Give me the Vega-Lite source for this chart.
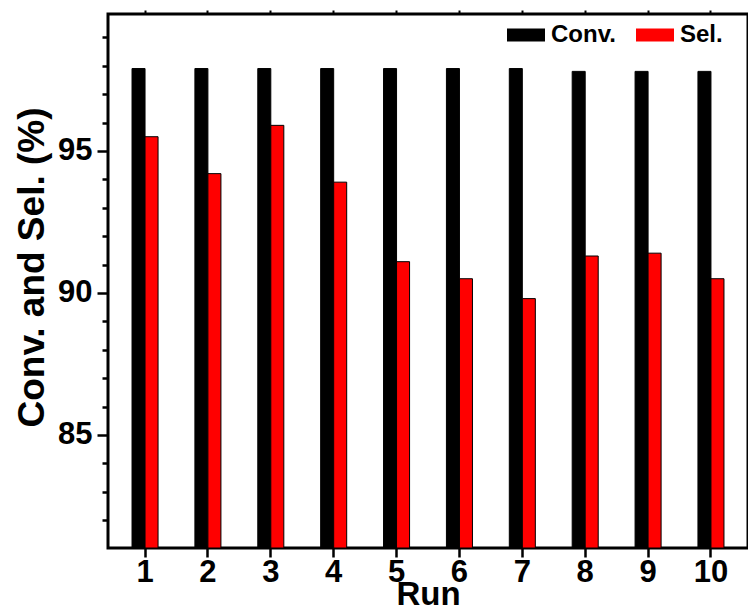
{
  "$schema": "https://vega.github.io/schema/vega-lite/v6.json",
  "width": 640,
  "height": 534,
  "autosize": "none",
  "padding": {"left": 108, "top": 14, "right": 0, "bottom": 66},
  "background": "white",
  "config": {
    "view": {"stroke": "black", "strokeWidth": 3},
    "font": "Liberation Sans"
  },
  "data": {
    "values": [
      {"Run": "1", "Series": "Conv.", "Value": 97.9},
      {"Run": "1", "Series": "Sel.", "Value": 95.5},
      {"Run": "2", "Series": "Conv.", "Value": 97.9},
      {"Run": "2", "Series": "Sel.", "Value": 94.2},
      {"Run": "3", "Series": "Conv.", "Value": 97.9},
      {"Run": "3", "Series": "Sel.", "Value": 95.9},
      {"Run": "4", "Series": "Conv.", "Value": 97.9},
      {"Run": "4", "Series": "Sel.", "Value": 93.9},
      {"Run": "5", "Series": "Conv.", "Value": 97.9},
      {"Run": "5", "Series": "Sel.", "Value": 91.1},
      {"Run": "6", "Series": "Conv.", "Value": 97.9},
      {"Run": "6", "Series": "Sel.", "Value": 90.5},
      {"Run": "7", "Series": "Conv.", "Value": 97.9},
      {"Run": "7", "Series": "Sel.", "Value": 89.8},
      {"Run": "8", "Series": "Conv.", "Value": 97.8},
      {"Run": "8", "Series": "Sel.", "Value": 91.3},
      {"Run": "9", "Series": "Conv.", "Value": 97.8},
      {"Run": "9", "Series": "Sel.", "Value": 91.4},
      {"Run": "10", "Series": "Conv.", "Value": 97.8},
      {"Run": "10", "Series": "Sel.", "Value": 90.5}
    ]
  },
  "layer": [
    {
      "mark": {"type": "bar", "stroke": "black", "strokeWidth": 1, "clip": true},
      "encoding": {
        "x": {
          "field": "Run",
          "type": "ordinal",
          "sort": ["1","2","3","4","5","6","7","8","9","10"],
          "scale": {"paddingInner": 0.586, "paddingOuter": 0.382},
          "axis": {
            "orient": "bottom",
            "title": "Run",
            "titleFont": "Liberation Sans",
            "titleFontSize": 33,
            "titleFontWeight": "bold",
            "titleColor": "black",
            "titlePadding": -9,
            "labelAngle": 0,
            "labelFont": "Liberation Sans",
            "labelFontSize": 31,
            "labelFontWeight": "bold",
            "labelColor": "black",
            "labelPadding": 0,
            "tickSize": 9,
            "tickWidth": 2.5,
            "tickColor": "black",
            "domain": false,
            "grid": false
          }
        },
        "xOffset": {
          "field": "Series",
          "type": "nominal",
          "sort": ["Conv.", "Sel."],
          "scale": {"paddingInner": 0, "paddingOuter": 0}
        },
        "y": {
          "field": "Value",
          "type": "quantitative",
          "scale": {"domain": [81.02, 99.82], "nice": false, "zero": false},
          "axis": {
            "title": "Conv. and Sel. (%)",
            "titleFont": "Liberation Sans",
            "titleFontSize": 37,
            "titleFontWeight": "bold",
            "titleColor": "black",
            "titlePadding": 6,
            "titleY": 253,
            "values": [82,83,84,85,86,87,88,89,90,91,92,93,94,95,96,97,98,99],
            "labelOverlap": false,
            "labelExpr": "datum.value % 5 === 0 ? datum.label : ''",
            "labelFont": "Liberation Sans",
            "labelFontSize": 31,
            "labelFontWeight": "bold",
            "labelColor": "black",
            "labelPadding": 5,
            "tickSize": {"condition": {"test": "datum.value % 5 === 0", "value": 11}, "value": 6},
            "tickWidth": 2.5,
            "tickColor": "black",
            "domain": false,
            "grid": false
          }
        },
        "y2": {"datum": 81.02},
        "color": {
          "field": "Series",
          "type": "nominal",
          "sort": ["Conv.", "Sel."],
          "scale": {"domain": ["Conv.", "Sel."], "range": ["#000000", "#ff0000"]},
          "legend": {
            "title": null,
            "orient": "none",
            "legendX": 399,
            "legendY": 2,
            "direction": "horizontal",
            "padding": 0,
            "symbolType": "M-1,-0.34H1V0.34H-1Z",
            "symbolSize": 1444,
            "symbolStrokeWidth": 0,
            "symbolOpacity": 1,
            "labelFont": "Liberation Sans",
            "labelFontSize": 24,
            "labelFontWeight": "bold",
            "labelColor": "black",
            "labelOffset": 6,
            "columnPadding": 20
          }
        }
      }
    },
    {
      "mark": {"type": "bar", "opacity": 0},
      "encoding": {
        "x": {
          "field": "Run",
          "type": "ordinal",
          "sort": ["1","2","3","4","5","6","7","8","9","10"],
          "axis": {
            "orient": "top",
            "title": null,
            "labels": false,
            "tickSize": 4,
            "tickWidth": 2,
            "tickColor": "black",
            "domain": false,
            "grid": false
          }
        }
      }
    }
  ]
}
